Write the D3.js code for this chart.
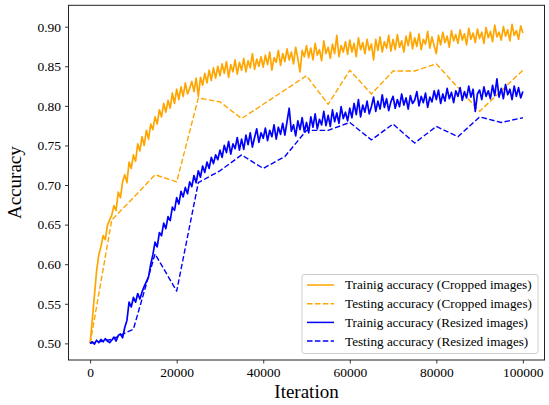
<!DOCTYPE html>
<html>
<head>
<meta charset="utf-8">
<script src="https://cdn.jsdelivr.net/npm/d3@7"></script>
<style>
  body { margin: 0; background: #fff; }
  svg text { font-family: "Liberation Serif", "Times New Roman", serif; fill: #000; }
</style>
</head>
<body>
<div class="chart"></div>
<script>
// Training accuracy, logged every 500 iterations (0 .. 100000)
var trainStep = 500;
var trainCropped = [
  0.500, 0.530, 0.561, 0.592, 0.612, 0.622, 0.636, 0.631, 0.649, 0.656,
  0.662, 0.674, 0.668, 0.691, 0.684, 0.704, 0.713, 0.703, 0.729, 0.721,
  0.738, 0.730, 0.752, 0.743, 0.761, 0.750, 0.769, 0.758, 0.777, 0.770,
  0.786, 0.777, 0.795, 0.786, 0.803, 0.792, 0.807, 0.797, 0.816, 0.803,
  0.821, 0.808, 0.824, 0.812, 0.829, 0.815, 0.822, 0.831, 0.818, 0.835,
  0.812, 0.836, 0.826, 0.841, 0.829, 0.845, 0.832, 0.848, 0.835, 0.850,
  0.838, 0.853, 0.841, 0.856, 0.836, 0.852, 0.843, 0.858, 0.840, 0.855,
  0.845, 0.860, 0.843, 0.857, 0.848, 0.866, 0.846, 0.859, 0.850, 0.862,
  0.849, 0.864, 0.852, 0.868, 0.845, 0.861, 0.855, 0.870, 0.851, 0.866,
  0.856, 0.872, 0.858, 0.868, 0.853, 0.874, 0.860, 0.843, 0.870, 0.862,
  0.876, 0.861, 0.873, 0.858, 0.879, 0.864, 0.871, 0.857, 0.882, 0.866,
  0.874, 0.860, 0.878, 0.866, 0.889, 0.862, 0.876, 0.868, 0.881, 0.865,
  0.883, 0.868, 0.879, 0.862, 0.886, 0.871, 0.880, 0.866, 0.884, 0.870,
  0.878, 0.858, 0.884, 0.870, 0.887, 0.868, 0.881, 0.873, 0.889, 0.869,
  0.884, 0.871, 0.890, 0.874, 0.882, 0.868, 0.888, 0.876, 0.893, 0.872,
  0.886, 0.875, 0.891, 0.871, 0.884, 0.878, 0.894, 0.873, 0.887, 0.876,
  0.866, 0.889, 0.877, 0.893, 0.880, 0.888, 0.874, 0.895, 0.882, 0.890,
  0.879, 0.896, 0.883, 0.891, 0.877, 0.898, 0.884, 0.892, 0.880, 0.897,
  0.885, 0.893, 0.879, 0.899, 0.886, 0.894, 0.881, 0.902, 0.887, 0.893,
  0.883, 0.900, 0.888, 0.896, 0.882, 0.903, 0.889, 0.895, 0.884, 0.901,
  0.892
];
var trainResized = [
  0.500, 0.502, 0.499, 0.504, 0.501, 0.505, 0.502, 0.506, 0.503, 0.501,
  0.504, 0.508, 0.503, 0.510, 0.512, 0.507, 0.520, 0.529, 0.552, 0.546,
  0.558, 0.552, 0.563, 0.556, 0.565, 0.572, 0.578, 0.584, 0.600, 0.612,
  0.628, 0.622, 0.640, 0.636, 0.652, 0.645, 0.660, 0.655, 0.672, 0.668,
  0.684, 0.676, 0.692, 0.685, 0.697, 0.689, 0.704, 0.698, 0.712, 0.703,
  0.718, 0.710, 0.724, 0.716, 0.729, 0.721, 0.735, 0.727, 0.738, 0.732,
  0.744, 0.735, 0.750, 0.741, 0.755, 0.739, 0.752, 0.746, 0.760, 0.744,
  0.758, 0.745, 0.763, 0.751, 0.766, 0.748, 0.760, 0.771, 0.754, 0.766,
  0.759, 0.772, 0.756, 0.769, 0.761, 0.776, 0.758, 0.773, 0.764, 0.778,
  0.763, 0.780, 0.797, 0.768, 0.776, 0.762, 0.781, 0.770, 0.785, 0.767,
  0.779, 0.766, 0.786, 0.773, 0.790, 0.771, 0.783, 0.776, 0.793, 0.775,
  0.788, 0.774, 0.795, 0.780, 0.791, 0.778, 0.799, 0.784, 0.792, 0.781,
  0.797, 0.785, 0.803, 0.789, 0.808, 0.786, 0.801, 0.792, 0.806, 0.790,
  0.799, 0.811, 0.793, 0.806, 0.796, 0.814, 0.798, 0.809, 0.794, 0.805,
  0.812, 0.797, 0.808, 0.799, 0.815, 0.801, 0.810, 0.796, 0.813, 0.803,
  0.807, 0.818, 0.800, 0.812, 0.804, 0.816, 0.798, 0.811, 0.805, 0.819,
  0.808, 0.820, 0.803, 0.815, 0.806, 0.822, 0.809, 0.817, 0.804, 0.819,
  0.812, 0.823, 0.807, 0.818, 0.810, 0.825, 0.811, 0.821, 0.793, 0.815,
  0.820, 0.808, 0.824, 0.812, 0.819, 0.809, 0.826, 0.813, 0.834, 0.811,
  0.822, 0.809, 0.827, 0.814, 0.821, 0.808, 0.825, 0.812, 0.823, 0.810,
  0.818
];

// Testing accuracy, every 5000 iterations
var testIters = [0, 5000, 10000, 15000, 20000, 25000, 30000, 35000, 40000, 45000, 50000,
  55000, 60000, 65000, 70000, 75000, 80000, 85000, 90000, 95000, 100000];
var testCropped = [0.500, 0.656, 0.684, 0.713, 0.704, 0.810, 0.805, 0.784, 0.802, 0.820, 0.838,
  0.802, 0.845, 0.815, 0.844, 0.844, 0.853, 0.823, 0.793, 0.819, 0.845];
var testResized = [0.500, 0.505, 0.518, 0.613, 0.566, 0.703, 0.718, 0.738, 0.721, 0.736, 0.769,
  0.769, 0.779, 0.757, 0.777, 0.753, 0.774, 0.761, 0.786, 0.779, 0.785];

var xTicks = [0, 20000, 40000, 60000, 80000, 100000];
var yTicks = [0.50, 0.55, 0.60, 0.65, 0.70, 0.75, 0.80, 0.85, 0.90];

var legendLabels = [
  "Trainig accuracy (Cropped images)",
  "Testing accuracy (Cropped images)",
  "Trainig accuracy (Resized images)",
  "Testing accuracy (Resized images)"
];

// SVG area
var svgWidth = 549;
var svgHeight = 405;
var margin = { top: 5.3, right: 4.5, bottom: 45, left: 68.5 };
var width = svgWidth - margin.left - margin.right;
var height = svgHeight - margin.top - margin.bottom;

var svg = d3.select(".chart")
  .append("svg")
  .attr("width", svgWidth)
  .attr("height", svgHeight);

var chart = svg.append("g")
  .attr("transform", `translate(${margin.left}, ${margin.top})`);

var xScale = d3.scaleLinear().domain([-5000, 105000]).range([0, width]);
var yScale = d3.scaleLinear().domain([0.479, 0.927]).range([height, 0]);

chart.append("clipPath").attr("id", "plotclip")
  .append("rect").attr("width", width).attr("height", height);

// series table built from the arrays above
var series = [
  { label: legendLabels[0], color: "orange", dash: null,
    pts: trainCropped.map(function (v, i) { return [i * trainStep, v]; }) },
  { label: legendLabels[1], color: "orange", dash: "5.5,2.4",
    pts: testCropped.map(function (v, i) { return [testIters[i], v]; }) },
  { label: legendLabels[2], color: "blue", dash: null,
    pts: trainResized.map(function (v, i) { return [i * trainStep, v]; }) },
  { label: legendLabels[3], color: "blue", dash: "5.5,2.4",
    pts: testResized.map(function (v, i) { return [testIters[i], v]; }) }
];

var line = d3.line()
  .x(function (d) { return xScale(d[0]); })
  .y(function (d) { return yScale(d[1]); });

var lines = chart.append("g").attr("clip-path", "url(#plotclip)");
series.forEach(function (s) {
  lines.append("path")
    .datum(s.pts)
    .attr("d", line)
    .attr("fill", "none")
    .attr("stroke", s.color)
    .attr("stroke-width", s.dash ? 1.4 : 1.7)
    .attr("stroke-linejoin", "round")
    .attr("stroke-dasharray", s.dash);
});

// axes
var bottomAxis = d3.axisBottom(xScale).tickValues(xTicks).tickSize(3.5).tickPadding(4)
  .tickFormat(d3.format("d"));
var leftAxis = d3.axisLeft(yScale).tickValues(yTicks).tickSize(3.5).tickPadding(4)
  .tickFormat(d3.format(".2f"));

var gx = chart.append("g")
  .attr("transform", `translate(0, ${height})`)
  .call(bottomAxis);
var gy = chart.append("g").call(leftAxis);

[gx, gy].forEach(function (g) {
  g.select(".domain").remove();
  g.selectAll("line").attr("stroke", "#222").attr("stroke-width", 0.9);
  g.selectAll("text").style("font-family", "Liberation Serif, serif").style("font-size", "13.5px");
});

// frame
chart.append("rect")
  .attr("width", width)
  .attr("height", height)
  .attr("fill", "none")
  .attr("stroke", "#222")
  .attr("stroke-width", 1);

// axis labels
chart.append("text")
  .attr("x", width / 2)
  .attr("y", height + 38.5)
  .attr("text-anchor", "middle")
  .style("font-size", "19px")
  .text("Iteration");

chart.append("text")
  .attr("transform", "rotate(-90)")
  .attr("x", -height / 2)
  .attr("y", -48)
  .attr("text-anchor", "middle")
  .style("font-size", "19px")
  .text("Accuracy");

// legend
var legend = svg.append("g").attr("transform", "translate(302, 274.5)");
legend.append("rect")
  .attr("width", 236)
  .attr("height", 79)
  .attr("rx", 2.5)
  .attr("fill", "#fff")
  .attr("fill-opacity", 0.8)
  .attr("stroke", "#cccccc")
  .attr("stroke-width", 1);

series.forEach(function (s, i) {
  var y = 10.5 + i * 18.7;
  legend.append("line")
    .attr("x1", 5).attr("x2", 32)
    .attr("y1", y).attr("y2", y)
    .attr("stroke", s.color)
    .attr("stroke-width", 1.5)
    .attr("stroke-dasharray", s.dash);
  legend.append("text")
    .attr("x", 43)
    .attr("y", y + 4.4)
    .style("font-size", "13.2px")
    .text(s.label);
});
</script>
</body>
</html>
